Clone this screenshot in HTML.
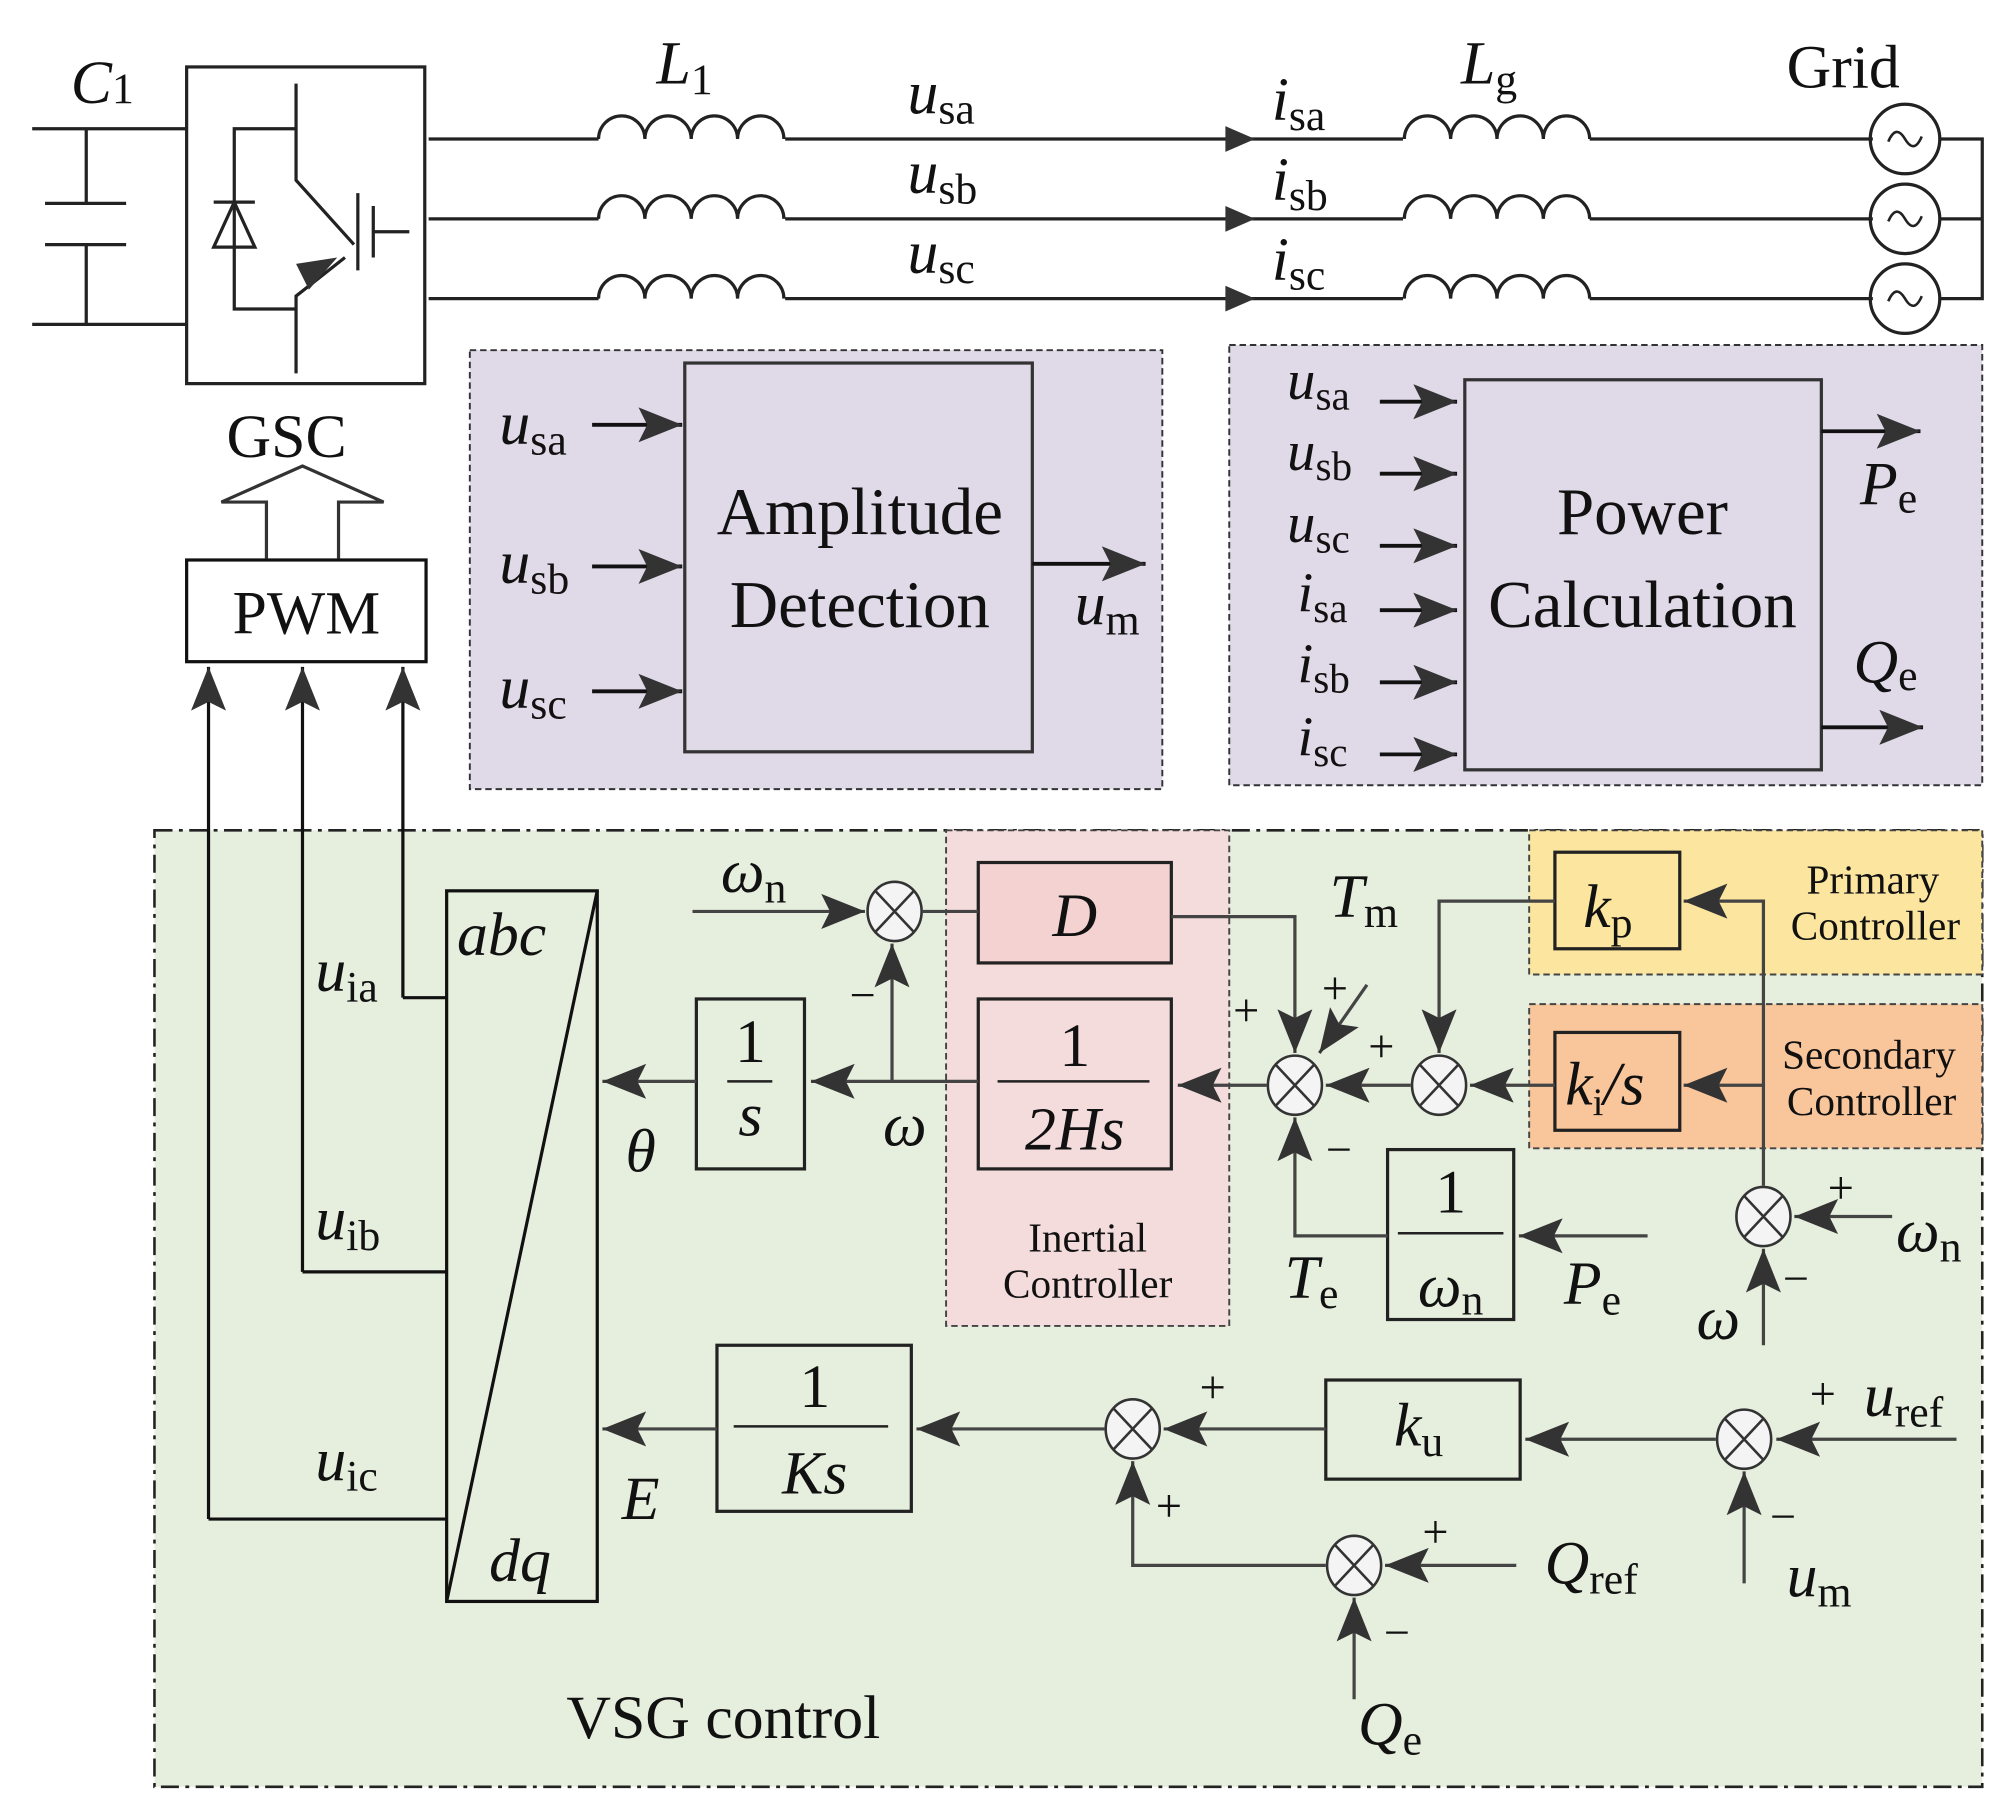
<!DOCTYPE html>
<html><head><meta charset="utf-8"><style>html,body{margin:0;padding:0;background:#fff}svg{display:block}text{font-family:"Liberation Serif",serif;fill:#111}.i{font-style:italic}</style></head><body>
<svg width="2008" height="1819" viewBox="0 0 1560 1413" preserveAspectRatio="none" xmlns="http://www.w3.org/2000/svg">
<defs>
<marker id="b" viewBox="0 0 10 10" refX="10" refY="5" markerWidth="34" markerHeight="34" markerUnits="userSpaceOnUse" orient="auto"><path d="M0,1 L10,5 L0,9 L2,5z" fill="#333"/></marker>
<g id="sum"><ellipse cx="0" cy="0" rx="21" ry="23" fill="#f4f4f4" stroke="#333" stroke-width="2"/><path d="M-15,-16 L15,16 M15,-16 L-15,16" stroke="#333" stroke-width="2"/></g>
<path id="ind" d="M0,0 a18,18 0 0 1 36,0 a18,18 0 0 1 36,0 a18,18 0 0 1 36,0 a18,18 0 0 1 36,0" fill="none" stroke="#222" stroke-width="2.5"/>
</defs>
<g stroke="#222" stroke-width="2.5" fill="none">
<path d="M25,100 H145 M25,252 H145 M67,100 V158 M67,190 V252 M35,158 H98 M35,190 H98"/>
<rect x="145" y="52" width="185" height="246"/>
<path d="M230,65 V140 L275,190 M230,290 V230 L268,200 M278,150 V210 M290,160 V200 M290,180 H318 M230,100 H182 V240 H230 M166,157 H198 M182,157 L166,192 H198 Z"/>
<path d="M333,108 H465 M610,108 H1090 M1235,108 H1455 M333,170 H465 M610,170 H1090 M1235,170 H1455 M333,232 H465 M610,232 H1090 M1235,232 H1455 M1507,108 H1540 V232 H1507 M1507,170 H1540"/>
<circle cx="1480" cy="108" r="27"/><circle cx="1480" cy="170" r="27"/><circle cx="1480" cy="232" r="27"/>
<path d="M1467,110 q6,-14 13,-2 q7,12 13,-2 M1467,172 q6,-14 13,-2 q7,12 13,-2 M1467,234 q6,-14 13,-2 q7,12 13,-2" stroke-width="2"/>
</g>
<use href="#ind" x="465" y="108"/><use href="#ind" x="465" y="170"/><use href="#ind" x="465" y="232"/>
<use href="#ind" x="1091" y="108"/><use href="#ind" x="1091" y="170"/><use href="#ind" x="1091" y="232"/>
<path d="M952,98 L975,108 L952,118 Z M952,160 L975,170 L952,180 Z M952,222 L975,232 L952,242 Z M230,205 L262,200 L240,225 Z" fill="#333"/>
<rect x="365" y="272" width="538" height="341" fill="#e0d9e8" stroke="#333" stroke-width="1.5" stroke-dasharray="5,3"/>
<rect x="955" y="268" width="585" height="342" fill="#e0d9e8" stroke="#333" stroke-width="1.5" stroke-dasharray="5,3"/>
<rect x="532" y="282" width="270" height="302" fill="none" stroke="#333" stroke-width="2.5"/>
<rect x="1138" y="295" width="277" height="303" fill="none" stroke="#333" stroke-width="2.5"/>
<g stroke="#111" stroke-width="3" marker-end="url(#b)">
<path d="M460,330 H530"/><path d="M460,440 H530"/><path d="M460,537 H530"/><path d="M802,438 H890"/>
<path d="M1072,312 H1132"/><path d="M1072,368 H1132"/><path d="M1072,424 H1132"/><path d="M1072,474 H1132"/><path d="M1072,530 H1132"/><path d="M1072,586 H1132"/>
<path d="M1415,335 H1492"/><path d="M1415,565 H1494"/>
</g>
<rect x="145" y="435" width="186" height="79" fill="#fff" stroke="#111" stroke-width="2.5"/>
<path d="M207,434 V390 H172 L235,362 L298,390 H263 V434" fill="none" stroke="#333" stroke-width="2.5"/>
<rect x="120" y="645" width="1420" height="743" fill="#e6efde" stroke="#222" stroke-width="2" stroke-dasharray="14,5,3,5"/>
<rect x="735" y="645" width="220" height="385" fill="#f5dcdc" stroke="#444" stroke-width="1.5" stroke-dasharray="5,3"/>
<rect x="1188" y="645" width="352" height="112" fill="#fbe59f" stroke="#444" stroke-width="1.5" stroke-dasharray="5,3"/>
<rect x="1188" y="780" width="352" height="112" fill="#f9c69c" stroke="#444" stroke-width="1.5" stroke-dasharray="5,3"/>
<g stroke="#111" stroke-width="2.5" fill="none">
<path d="M162,1180 H347 M235,988 H347 M313,775 H347"/>
<path d="M162,1180 V518" marker-end="url(#b)"/><path d="M235,988 V518" marker-end="url(#b)"/><path d="M313,775 V518" marker-end="url(#b)"/>
<rect x="347" y="692" width="117" height="552"/><path d="M347,1244 L464,692"/>
</g>
<g stroke="#222" stroke-width="2.5" fill="none">
<rect x="760" y="670" width="150" height="78" fill="#f5d2d2"/>
<rect x="760" y="776" width="150" height="132"/>
<rect x="541" y="776" width="84" height="132"/>
<rect x="1208" y="662" width="97" height="75"/>
<rect x="1208" y="802" width="97" height="76"/>
<rect x="1078" y="893" width="98" height="132"/>
<rect x="1030" y="1072" width="151" height="77"/>
<rect x="557" y="1045" width="151" height="129"/>
<path d="M775,840 H893 M565,840 H600 M1086,958 H1168 M570,1108 H690" stroke-width="2"/>
</g>
<g stroke="#444" stroke-width="2.5" fill="none" marker-end="url(#b)">
<path d="M538,708 H672"/>
<path d="M910,712 H1006 V818"/>
<path d="M1062,765 L1025,818"/>
<path d="M984,843 H915"/>
<path d="M760,840 H630"/>
<path d="M693,840 V733"/>
<path d="M541,840 H468"/>
<path d="M1096,843 H1030"/>
<path d="M1208,843 H1142"/>
<path d="M1208,700 H1118 V818"/>
<path d="M1370,921 V700 H1308"/>
<path d="M1370,843 H1308"/>
<path d="M1470,945 H1394"/>
<path d="M1370,1045 V970"/>
<path d="M1280,960 H1180"/>
<path d="M1078,960 H1006 V868"/>
<path d="M1520,1118 H1380"/>
<path d="M1333,1118 H1185"/>
<path d="M1030,1110 H904"/>
<path d="M858,1110 H712"/>
<path d="M557,1110 H468"/>
<path d="M1355,1230 V1143"/>
<path d="M1178,1216 H1076"/>
<path d="M1030,1216 H880 V1135"/>
<path d="M1052,1320 V1241"/>
</g>
<path d="M717,708 H760" stroke="#444" stroke-width="2.5"/>
<use href="#sum" x="695" y="708"/><use href="#sum" x="1006" y="843"/><use href="#sum" x="1118" y="843"/>
<use href="#sum" x="1370" y="945"/><use href="#sum" x="880" y="1110"/><use href="#sum" x="1355" y="1118"/><use href="#sum" x="1052" y="1216"/>
<g font-size="48">
<text x="55" y="80" class="i">C<tspan font-size="34" font-style="normal">1</tspan></text>
<text x="510" y="65" class="i">L<tspan font-size="34" font-style="normal" dy="8">1</tspan></text>
<text x="1135" y="65" class="i">L<tspan font-size="34" font-style="normal" dy="8">g</tspan></text>
<text x="1388" y="68">Grid</text>
<text x="705" y="88" class="i">u<tspan font-size="34" font-style="normal" dy="8">sa</tspan></text>
<text x="705" y="150" class="i">u<tspan font-size="34" font-style="normal" dy="8">sb</tspan></text>
<text x="705" y="212" class="i">u<tspan font-size="34" font-style="normal" dy="8">sc</tspan></text>
<text x="988" y="93" class="i">i<tspan font-size="34" font-style="normal" dy="8">sa</tspan></text>
<text x="988" y="155" class="i">i<tspan font-size="34" font-style="normal" dy="8">sb</tspan></text>
<text x="988" y="217" class="i">i<tspan font-size="34" font-style="normal" dy="8">sc</tspan></text>
<text x="176" y="355">GSC</text>
<text x="238" y="492" text-anchor="middle">PWM</text>
<text x="388" y="345" class="i">u<tspan font-size="34" font-style="normal" dy="8">sa</tspan></text>
<text x="388" y="453" class="i">u<tspan font-size="34" font-style="normal" dy="8">sb</tspan></text>
<text x="388" y="550" class="i">u<tspan font-size="34" font-style="normal" dy="8">sc</tspan></text>
<text x="835" y="485" class="i">u<tspan font-size="34" font-style="normal" dy="8">m</tspan></text>
<text x="668" y="415" text-anchor="middle" font-size="52">Amplitude</text>
<text x="668" y="487" text-anchor="middle" font-size="52">Detection</text>
<text x="1276" y="415" text-anchor="middle" font-size="52">Power</text>
<text x="1276" y="487" text-anchor="middle" font-size="52">Calculation</text>
<g font-size="44">
<text x="1000" y="310" class="i">u<tspan font-size="32" font-style="normal" dy="8">sa</tspan></text>
<text x="1000" y="365" class="i">u<tspan font-size="32" font-style="normal" dy="8">sb</tspan></text>
<text x="1000" y="421" class="i">u<tspan font-size="32" font-style="normal" dy="8">sc</tspan></text>
<text x="1008" y="475" class="i">i<tspan font-size="32" font-style="normal" dy="8">sa</tspan></text>
<text x="1008" y="530" class="i">i<tspan font-size="32" font-style="normal" dy="8">sb</tspan></text>
<text x="1008" y="587" class="i">i<tspan font-size="32" font-style="normal" dy="8">sc</tspan></text>
</g>
<text x="1445" y="392" class="i">P<tspan font-size="34" font-style="normal" dy="6">e</tspan></text>
<text x="1440" y="530" class="i">Q<tspan font-size="34" font-style="normal" dy="6">e</tspan></text>
<text x="355" y="742" class="i">abc</text>
<text x="380" y="1228" class="i">dq</text>
<text x="245" y="770" class="i">u<tspan font-size="34" font-style="normal" dy="8">ia</tspan></text>
<text x="245" y="963" class="i">u<tspan font-size="34" font-style="normal" dy="8">ib</tspan></text>
<text x="245" y="1150" class="i">u<tspan font-size="34" font-style="normal" dy="8">ic</tspan></text>
<text x="560" y="693" class="i">ω<tspan font-size="34" font-style="normal" dy="8">n</tspan></text>
<text x="835" y="727" class="i" text-anchor="middle">D</text>
<text x="835" y="828" text-anchor="middle">1</text>
<text x="835" y="893" class="i" text-anchor="middle">2Hs</text>
<text x="583" y="825" text-anchor="middle">1</text>
<text x="583" y="882" class="i" text-anchor="middle">s</text>
<text x="486" y="910" class="i">θ</text>
<text x="686" y="890" class="i">ω</text>
<text x="1033" y="712" class="i">T<tspan font-size="34" font-style="normal" dy="8">m</tspan></text>
<text x="1230" y="720" class="i">k<tspan font-size="34" font-style="normal" dy="8">p</tspan></text>
<text x="1216" y="858" class="i">k<tspan font-size="30" font-style="normal" dy="8">i</tspan><tspan dy="-8">/s</tspan></text>
<text x="1127" y="942" text-anchor="middle">1</text>
<text x="1127" y="1015" class="i" text-anchor="middle">ω<tspan font-size="34" font-style="normal" dy="6">n</tspan></text>
<text x="998" y="1008" class="i">T<tspan font-size="34" font-style="normal" dy="8">e</tspan></text>
<text x="1215" y="1013" class="i">P<tspan font-size="34" font-style="normal" dy="8">e</tspan></text>
<text x="1318" y="1040" class="i">ω</text>
<text x="1473" y="972" class="i">ω<tspan font-size="34" font-style="normal" dy="8">n</tspan></text>
<text x="633" y="1093" text-anchor="middle">1</text>
<text x="633" y="1160" class="i" text-anchor="middle">Ks</text>
<text x="483" y="1180" class="i">E</text>
<text x="1083" y="1123" class="i">k<tspan font-size="34" font-style="normal" dy="8">u</tspan></text>
<text x="1448" y="1100" class="i">u<tspan font-size="34" font-style="normal" dy="8">ref</tspan></text>
<text x="1200" y="1230" class="i">Q<tspan font-size="34" font-style="normal" dy="8">ref</tspan></text>
<text x="1388" y="1240" class="i">u<tspan font-size="34" font-style="normal" dy="8">m</tspan></text>
<text x="1055" y="1355" class="i">Q<tspan font-size="34" font-style="normal" dy="8">e</tspan></text>
<text x="440" y="1350">VSG control</text>
</g>
<g font-size="32" text-anchor="middle">
<text x="845" y="972">Inertial</text><text x="845" y="1008">Controller</text>
<text x="1455" y="694">Primary</text><text x="1457" y="730">Controller</text>
<text x="1452" y="830">Secondary</text><text x="1454" y="866">Controller</text>
</g>
<g font-size="36" fill="#222">
<text x="660" y="785">−</text><text x="958" y="797">+</text><text x="1027" y="780">+</text><text x="1063" y="825">+</text>
<text x="1030" y="905">−</text><text x="1420" y="935">+</text><text x="1385" y="1005">−</text>
<text x="932" y="1090">+</text><text x="898" y="1182">+</text><text x="1105" y="1202">+</text><text x="1075" y="1280">−</text>
<text x="1406" y="1095">+</text><text x="1375" y="1190">−</text>
</g>
</svg>
</body></html>
